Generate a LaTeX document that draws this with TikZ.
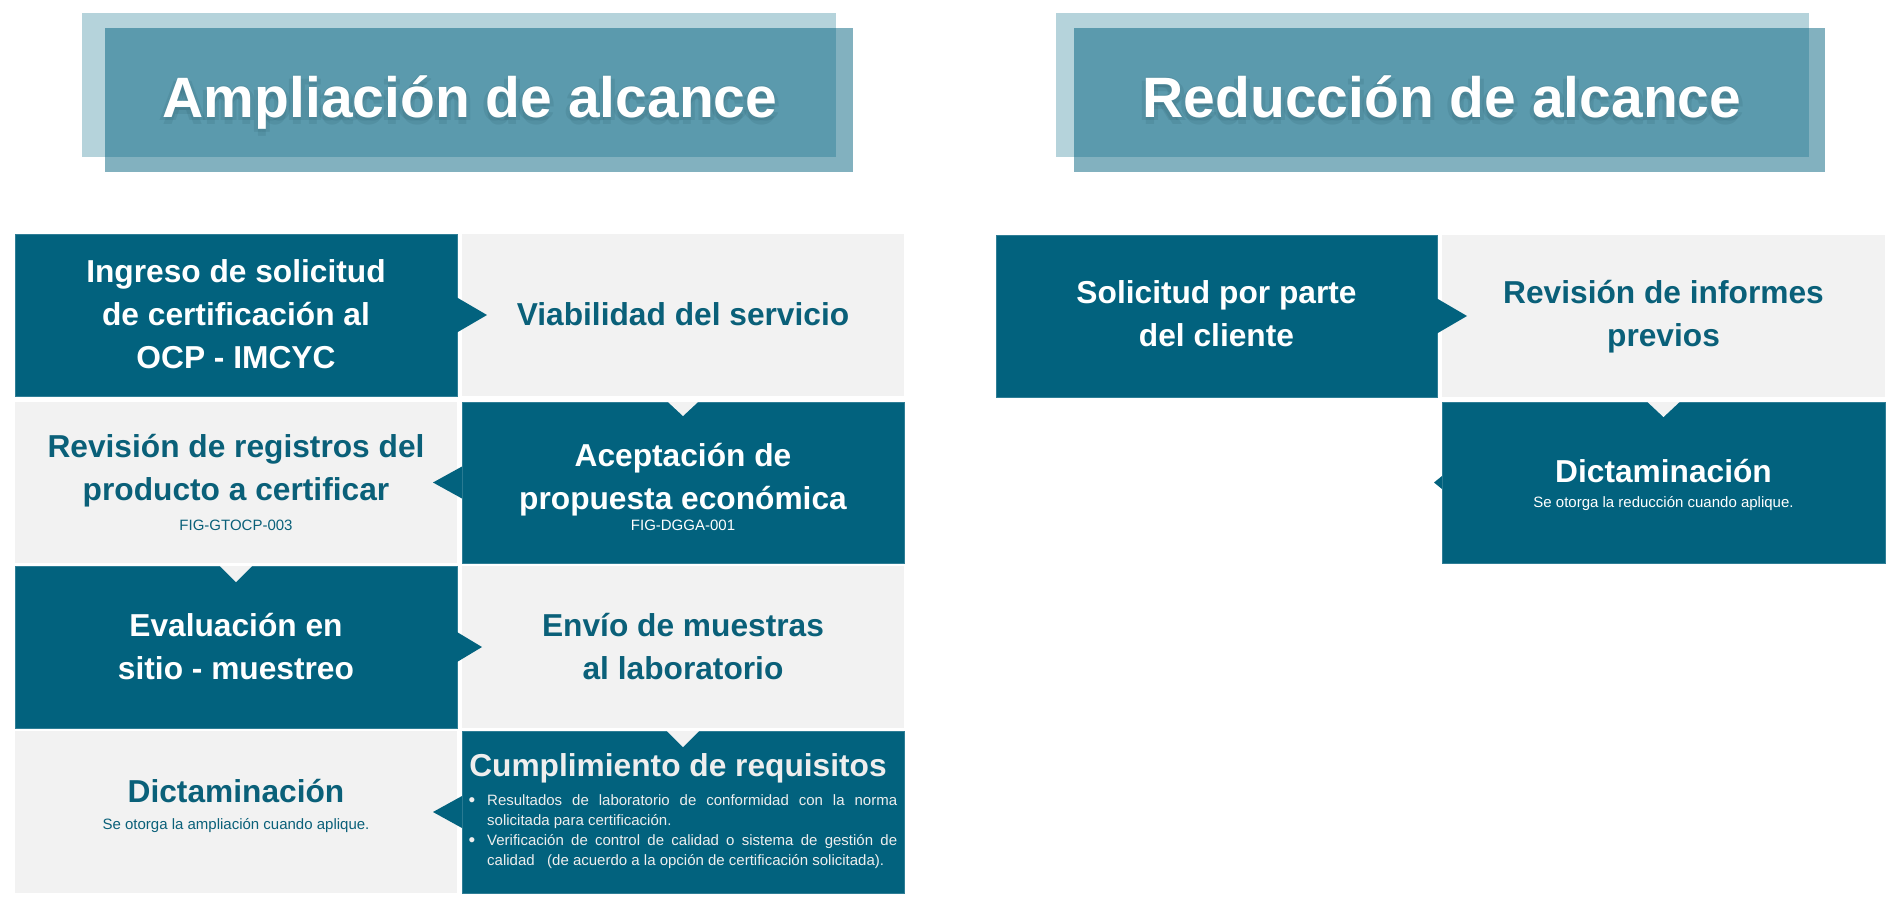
\documentclass[tikz,border=0pt]{standalone}
\usepackage{fontspec}
\setmainfont{Liberation Sans}
\definecolor{dkteal}{HTML}{02627E}
\definecolor{txteal}{HTML}{0A6079}
\definecolor{ltgray}{HTML}{F2F2F2}
\definecolor{hdback}{HTML}{B5D3DB}
\definecolor{hdfront}{HTML}{82B1BF}
\definecolor{hdover}{HTML}{5B9AAD}
\definecolor{hdshadow}{HTML}{1F4E5C}
\definecolor{boxedge}{HTML}{2F7E96}
\definecolor{bultext}{HTML}{EEEEEE}
\newcommand\mylines[1]{\begin{tabular}[t]{@{}c@{}}#1\end{tabular}}
\begin{document}
\begin{tikzpicture}[x=1pt,y=-1pt,
  darkbox/.style={rectangle, fill=dkteal, draw=boxedge, line width=0.7pt, inner sep=0, outer sep=0},
  lightbox/.style={rectangle, fill=ltgray, inner sep=0, outer sep=0},
  hdbox/.style={rectangle, inner sep=0, outer sep=0, minimum width=#1},
  big/.style={font=\fontsize{31.7}{43}\selectfont\bfseries, inner sep=0, anchor=base},
  smalltxt/.style={font=\fontsize{15}{18}\selectfont, inner sep=0, anchor=base},
  hdtext/.style={font=\fontsize{57}{60}\selectfont\bfseries, text=white, inner sep=0, anchor=base},
  hdshade/.style={hdtext, text=hdshadow, opacity=0.13},
  bul/.style={font=\fontsize{15}{20}\selectfont, text=bultext, inner sep=0},
  buldot/.style={font=\fontsize{19}{20}\selectfont, text=bultext, inner sep=0, anchor=base}
]
\useasboundingbox (0,0) rectangle (1900,908);

% ---------- headers ----------
\node[hdbox=754pt, minimum height=144pt, fill=hdback] (hlb) at (459,85) {};
\node[hdbox=748pt, minimum height=144pt, fill=hdfront] (hlf) at (479,100) {};
\fill[hdover] (hlf.north west) rectangle (hlb.south east);
\node[hdbox=753pt, minimum height=144pt, fill=hdback] (hrb) at (1432.5,85) {};
\node[hdbox=751pt, minimum height=144pt, fill=hdfront] (hrf) at (1449.5,100) {};
\fill[hdover] (hrf.north west) rectangle (hrb.south east);

\foreach \a in {0,90,180,270}{
  \path (470,120) ++(\a:4) node[hdshade] (hls\a) {Ampliación de alcance};
  \path (1442,120) ++(\a:4) node[hdshade] (hrs\a) {Reducción de alcance};
}
\node[hdtext] (hlt) at (470,117) {Ampliación de alcance};
\node[hdtext] (hrt) at (1442,117) {Reducción de alcance};

% ---------- left grid ----------
\node[darkbox, minimum width=442pt, minimum height=162pt] (ing) at (236,315) {};
\node[lightbox, minimum width=442pt, minimum height=162pt] (via) at (683,315) {};
\node[lightbox, minimum width=442pt, minimum height=161pt] (rev) at (236,482.5) {};
\node[darkbox, minimum width=442pt, minimum height=161pt] (ace) at (683,482.5) {};
\node[darkbox, minimum width=442pt, minimum height=162pt] (eva) at (236,647) {};
\node[lightbox, minimum width=442pt, minimum height=162pt] (env) at (683,647) {};
\node[lightbox, minimum width=442pt, minimum height=162pt] (dic) at (236,812) {};
\node[darkbox, minimum width=442pt, minimum height=162pt] (cum) at (683,812) {};

% ---------- right grid ----------
\node[darkbox, minimum width=441pt, minimum height=162pt] (sol) at (1216.5,316) {};
\node[lightbox, minimum width=443pt, minimum height=162pt] (rin) at (1663.5,316) {};
\node[darkbox, minimum width=443pt, minimum height=161pt] (dcr) at (1663.5,482.5) {};

% ---------- pointers ----------
\fill[dkteal] (ing.east) ++(0,-17.5) -- ++(30,17.5) -- ++(-30,17.5) -- cycle;
\fill[ltgray] (ace.north) ++(-15,0) -- ++(15,14) -- ++(15,-14) -- cycle;
\fill[dkteal] (ace.west) ++(0,-16) -- ++(-29,16) -- ++(29,16) -- cycle;
\fill[ltgray] (eva.north) ++(-16,0) -- ++(16,16) -- ++(16,-16) -- cycle;
\fill[dkteal] (eva.east) ++(0,-15) -- ++(25,15) -- ++(-25,15) -- cycle;
\fill[ltgray] (cum.north) ++(-16,0) -- ++(16,16) -- ++(16,-16) -- cycle;
\fill[dkteal] (cum.west) ++(0,-16) -- ++(-29,16) -- ++(29,16) -- cycle;
\fill[dkteal] (sol.east) ++(0,-17.5) -- ++(30,17.5) -- ++(-30,17.5) -- cycle;
\fill[ltgray] (dcr.north) ++(-16,0) -- ++(16,15) -- ++(16,-15) -- cycle;
\fill[dkteal] (dcr.west) ++(0,-6.5) -- ++(-8,6.5) -- ++(8,6.5) -- cycle;

% ---------- texts ----------
\node[big, text=white] (ingT) at (236,282) {\mylines{Ingreso de solicitud\\de certificación al\\OCP - IMCYC}};
\node[big, text=txteal] (viaT) at (683,325) {Viabilidad del servicio};
\node[big, text=txteal] (revT) at (236,457) {\mylines{Revisión de registros del\\producto a certificar}};
\node[smalltxt, text=txteal] (revS) at (236,530) {FIG-GTOCP-003};
\node[big, text=white] (aceT) at (683,466) {\mylines{Aceptación de\\propuesta económica}};
\node[smalltxt, text=white] (aceS) at (683,530) {FIG-DGGA-001};
\node[big, text=white] (evaT) at (236,636) {\mylines{Evaluación en\\sitio - muestreo}};
\node[big, text=txteal] (envT) at (683,636) {\mylines{Envío de muestras\\al laboratorio}};
\node[big, text=txteal] (dicT) at (236,802) {Dictaminación};
\node[smalltxt, text=txteal] (dicS) at (236,829) {Se otorga la ampliación cuando aplique.};
\node[big, text=bultext] (cumT) at (678,776) {Cumplimiento de requisitos};
\node[buldot] (b1) at (472,806) {•};
\node[bul, anchor=base west] (b1T) at (487,805) {\parbox[t]{410pt}{Resultados de laboratorio de conformidad con la norma\linebreak solicitada para certificación.}};
\node[buldot] (b2) at (472,846) {•};
\node[bul, anchor=base west] (b2T) at (487,845) {\parbox[t]{410pt}{Verificación de control de calidad o sistema de gestión de\linebreak calidad\ \ \ (de acuerdo a la opción de certificación solicitada).}};

\node[big, text=white] (solT) at (1216.5,303) {\mylines{Solicitud por parte\\del cliente}};
\node[big, text=txteal] (rinT) at (1663.5,303) {\mylines{Revisión de informes\\previos}};
\node[big, text=white] (dcrT) at (1663.5,482) {Dictaminación};
\node[smalltxt, text=white] (dcrS) at (1663.5,507) {Se otorga la reducción cuando aplique.};
\end{tikzpicture}
\end{document}
